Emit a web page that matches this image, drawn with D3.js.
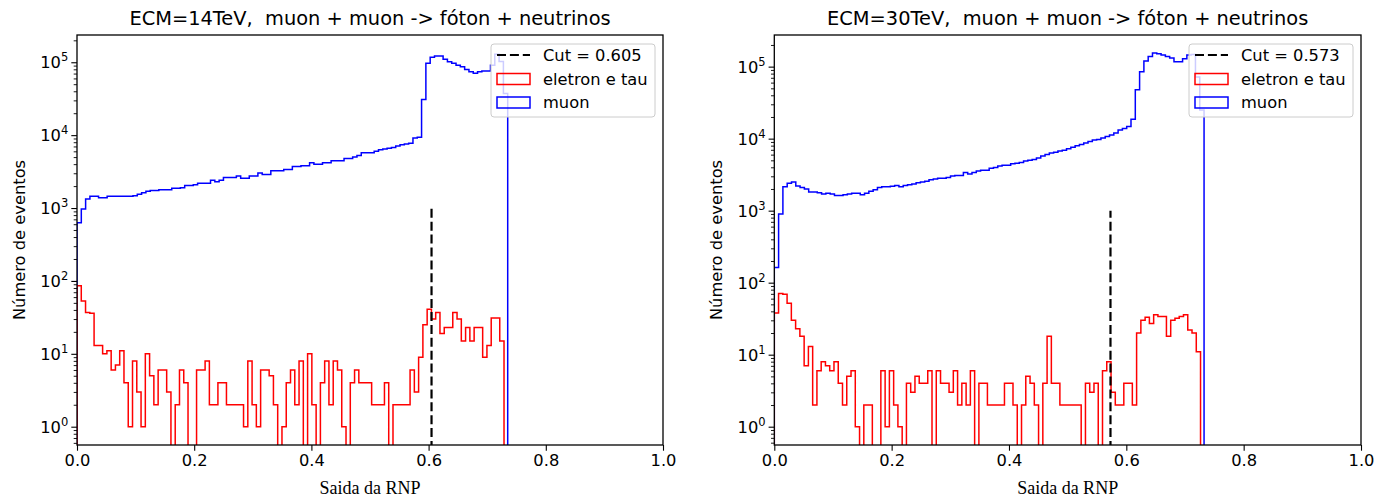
<!DOCTYPE html>
<html>
<head>
<meta charset="utf-8">
<script src="https://cdn.jsdelivr.net/npm/d3@7"></script>
<style>
  body { margin: 0; background: #fff; }
  svg text { font-family: "DejaVu Sans", sans-serif; fill: #000; white-space: pre; }
</style>
</head>
<body>
<svg id="chart" width="1376" height="499"></svg>
<script>
// --- data (100 bins per histogram) ---
const titles = ["ECM=14TeV,  muon + muon -> fóton + neutrinos", "ECM=30TeV,  muon + muon -> fóton + neutrinos"]
const cutValues = [0.605, 0.573]
const cutTop = 1000
const xTickValues = [0, 0.2, 0.4, 0.6, 0.8, 1.0]
const yExponents = [0, 1, 2, 3, 4, 5]
const yLimits = [[0.561, 236600], [0.557, 275000]]

// histogram x ranges [min, max] of each sample
const muonRange = [[0, 0.735], [0, 0.7325]]
const eletronRange = [[0, 0.7287], [0, 0.7265]]

const muon14 = [
    630, 970, 1330, 1450, 1450, 1380, 1380, 1450, 1450, 1450,
    1450, 1450, 1450, 1479, 1549, 1622, 1698, 1738, 1738, 1778,
    1778, 1778, 1862, 1862, 1905, 2042, 2042, 2089, 2188, 2188,
    2188, 2399, 2291, 2399, 2630, 2630, 2630, 2754, 2570, 2570,
    2754, 2754, 3020, 2884, 2884, 3236, 3236, 3236, 3388, 3388,
    3715, 3715, 3802, 3802, 4169, 3981, 3981, 4169, 4169, 4467,
    4467, 4467, 4786, 4786, 5012, 5248, 5754, 5754, 5754, 6026,
    6310, 6457, 6607, 6761, 7079, 7413, 7586, 7762, 9120, 9333,
    30900, 96600, 116700, 121600, 121600, 109600, 101600, 96600, 91200, 87100,
    79400, 74100, 70800, 74100, 75900, 75900, 91200, 128800, 102300, 37150
]
const eletron14 = [
    86, 53, 37, 36, 13, 13, 10, 11, 6, 7,
    11, 4, 1, 8, 3, 1, 10, 5, 2, 6,
    6, 3, 0, 2, 6, 4, 0, 0, 6, 6,
    8, 2, 2, 4, 4, 2, 2, 2, 2, 1,
    8, 2, 1, 6, 6, 5, 2, 0, 1, 4,
    6, 2, 8, 0, 10, 2, 0, 4, 8, 2,
    8, 6, 1, 0, 4, 6, 4, 4, 4, 2,
    2, 2, 4, 0, 2, 2, 2, 2, 6, 3,
    9, 25, 41, 30, 37, 19, 23, 23, 37, 30,
    15, 23, 15, 23, 23, 9, 13, 31, 31, 15
]
const muon30 = [
    162, 900, 2150, 2400, 2500, 2200, 2100, 2000, 1820, 1820,
    1780, 1700, 1740, 1700, 1620, 1620, 1660, 1700, 1740, 1740,
    1660, 1740, 1860, 1950, 2090, 2140, 2140, 2190, 2240, 2140,
    2240, 2290, 2340, 2450, 2510, 2570, 2690, 2750, 2820, 2820,
    2880, 3020, 3090, 3090, 3390, 3240, 3390, 3550, 3630, 3630,
    3890, 3980, 4170, 4270, 4270, 4470, 4570, 4680, 4900, 5010,
    5130, 5370, 5750, 6030, 6310, 6460, 6760, 6920, 7240, 7590,
    7940, 8320, 8710, 9120, 9550, 9770, 10200, 10700, 11200, 12000,
    13200, 13800, 14800, 18600, 47900, 85100, 120000, 138000, 155000, 151000,
    145000, 138000, 132000, 117000, 117000, 129000, 145000, 148000, 72000, 25000
]
const eletron30 = [
    38, 71, 69, 52, 30, 23, 18, 7, 13, 2,
    6, 8, 7, 6, 8, 4, 2, 5, 6, 1,
    0, 2, 2, 0, 0, 6, 1, 6, 2, 1,
    0, 4, 3, 5, 4, 4, 6, 0, 6, 4,
    4, 3, 6, 2, 4, 2, 6, 0, 4, 4,
    2, 2, 2, 2, 4, 4, 2, 0, 2, 5,
    4, 2, 0, 4, 18, 4, 4, 2, 2, 2,
    2, 2, 0, 4, 3, 4, 0, 6, 8, 3,
    2, 2, 4, 4, 2, 20, 30, 33, 27, 36,
    34, 34, 18, 30, 32, 34, 36, 22, 20, 11
]
const muonSeries = [muon14, muon30]
const eletronSeries = [eletron14, eletron30]
const legendLabels = ["eletron e tau", "muon"]

// --- layout ---
const panels = [
    { left: 77, right: 663 },
    { left: 774.3, right: 1361 }
]
const plotTop = 35, plotBottom = 445
const blue = "#0000ff", red = "#ff0000"

const svg = d3.select("#chart")

panels.forEach(function(p, k) {
    var x = d3.scaleLinear().domain([0, 1]).range([p.left, p.right])
    var y = d3.scaleLog().domain(yLimits[k]).range([plotBottom, plotTop])
    var g = svg.append("g")

    g.append("clipPath").attr("id", "clip" + k)
        .append("rect")
        .attr("x", p.left).attr("y", plotTop)
        .attr("width", p.right - p.left).attr("height", plotBottom - plotTop)

    var plot = g.append("g").attr("clip-path", "url(#clip" + k + ")")

    // step outline like matplotlib histtype='step'
    function stepPath(values, range) {
        var n = values.length
        var w = (range[1] - range[0]) / n
        var below = plotBottom + 20
        var yy = function(v) { return v > 0 ? y(v) : below }
        var pts = [[x(range[0]), below]]
        values.forEach(function(v, i) {
            pts.push([x(range[0] + i * w), yy(v)])
            pts.push([x(range[0] + (i + 1) * w), yy(v)])
        })
        pts.push([x(range[1]), below])
        return d3.line()(pts)
    }

    plot.append("path")
        .attr("d", stepPath(muonSeries[k], muonRange[k]))
        .attr("fill", "none").attr("stroke", blue).attr("stroke-width", 1.5)
    plot.append("path")
        .attr("d", stepPath(eletronSeries[k], eletronRange[k]))
        .attr("fill", "none").attr("stroke", red).attr("stroke-width", 1.5)

    // cut line
    plot.append("line")
        .attr("x1", x(cutValues[k])).attr("x2", x(cutValues[k]))
        .attr("y1", plotBottom + 5).attr("y2", y(cutTop))
        .attr("stroke", "#000").attr("stroke-width", 2.2)
        .attr("stroke-dasharray", "9,3.9")

    // x axis
    var xAxis = g.append("g")
        .attr("transform", "translate(0," + plotBottom + ")")
        .call(d3.axisBottom(x).tickValues(xTickValues).tickFormat(d3.format(".1f")).tickSize(5.7).tickPadding(4))
    xAxis.select(".domain").remove()
    xAxis.selectAll("line").attr("stroke", "#000").attr("stroke-width", 1.1)
    xAxis.selectAll("text").attr("fill", "#000").style("font-size", "16.3px").style("font-family", "DejaVu Sans")

    // y axis major and minor ticks
    var majors = yExponents.map(function(e) { return Math.pow(10, e) })
    var minors = []
    for (var e = -1; e <= 5; e++) {
        for (var m = 2; m <= 9; m++) {
            var v = m * Math.pow(10, e)
            if (v >= yLimits[k][0] && v <= yLimits[k][1]) minors.push(v)
        }
    }
    var yMajor = g.append("g")
        .attr("transform", "translate(" + p.left + ",0)")
        .call(d3.axisLeft(y).tickValues(majors).tickFormat("").tickSize(5.7))
    var yMinor = g.append("g")
        .attr("transform", "translate(" + p.left + ",0)")
        .call(d3.axisLeft(y).tickValues(minors).tickFormat("").tickSize(3.3))
    yMajor.select(".domain").remove()
    yMinor.select(".domain").remove()
    yMajor.selectAll("line").attr("stroke", "#000").attr("stroke-width", 1.1)
    yMinor.selectAll("line").attr("stroke", "#000").attr("stroke-width", 0.9)

    yExponents.forEach(function(ex) {
        var t = g.append("text")
            .attr("x", p.left - 8.7)
            .attr("y", y(Math.pow(10, ex)) + 6)
            .attr("text-anchor", "end")
            .style("font-size", "16.3px")
        t.append("tspan").text("10")
        t.append("tspan").attr("dy", -7).style("font-size", "11.5px").text(ex)
    })

    // frame
    g.append("rect")
        .attr("x", p.left).attr("y", plotTop)
        .attr("width", p.right - p.left).attr("height", plotBottom - plotTop)
        .attr("fill", "none").attr("stroke", "#000").attr("stroke-width", 1.3)

    // title and labels
    g.append("text")
        .attr("x", (p.left + p.right) / 2).attr("y", 25)
        .attr("text-anchor", "middle")
        .style("font-size", "19.4px")
        .text(titles[k])
    g.append("text")
        .attr("x", (p.left + p.right) / 2).attr("y", 494)
        .attr("text-anchor", "middle")
        .style("font-family", "'Liberation Serif', serif")
        .style("font-size", "18px")
        .text("Saida da RNP")
    g.append("text")
        .attr("transform", "translate(" + (p.left - 52) + "," + ((plotTop + plotBottom) / 2) + ") rotate(-90)")
        .attr("text-anchor", "middle")
        .style("font-size", "16.3px")
        .text("Número de eventos")

    // legend
    var lx = p.right - 172, ly = plotTop + 9
    var leg = g.append("g").attr("transform", "translate(" + lx + "," + ly + ")")
    leg.append("rect")
        .attr("width", 164).attr("height", 73).attr("rx", 3)
        .attr("fill", "#fff").attr("fill-opacity", 0.8)
        .attr("stroke", "#cccccc").attr("stroke-width", 1)
    leg.append("line")
        .attr("x1", 6).attr("x2", 39).attr("y1", 11).attr("y2", 11)
        .attr("stroke", "#000").attr("stroke-width", 2.2).attr("stroke-dasharray", "9,3.9")
    leg.append("rect").attr("x", 6).attr("y", 29.5).attr("width", 33).attr("height", 11)
        .attr("fill", "none").attr("stroke", red).attr("stroke-width", 1.5)
    leg.append("rect").attr("x", 6).attr("y", 53).attr("width", 33).attr("height", 11)
        .attr("fill", "none").attr("stroke", blue).attr("stroke-width", 1.5)
    var rows = ["Cut = " + cutValues[k], legendLabels[0], legendLabels[1]]
    rows.forEach(function(txt, i) {
        leg.append("text")
            .attr("x", 52).attr("y", 11 + i * 23.5 + 6)
            .style("font-size", "16.3px")
            .text(txt)
    })
})
</script>
</body>
</html>
